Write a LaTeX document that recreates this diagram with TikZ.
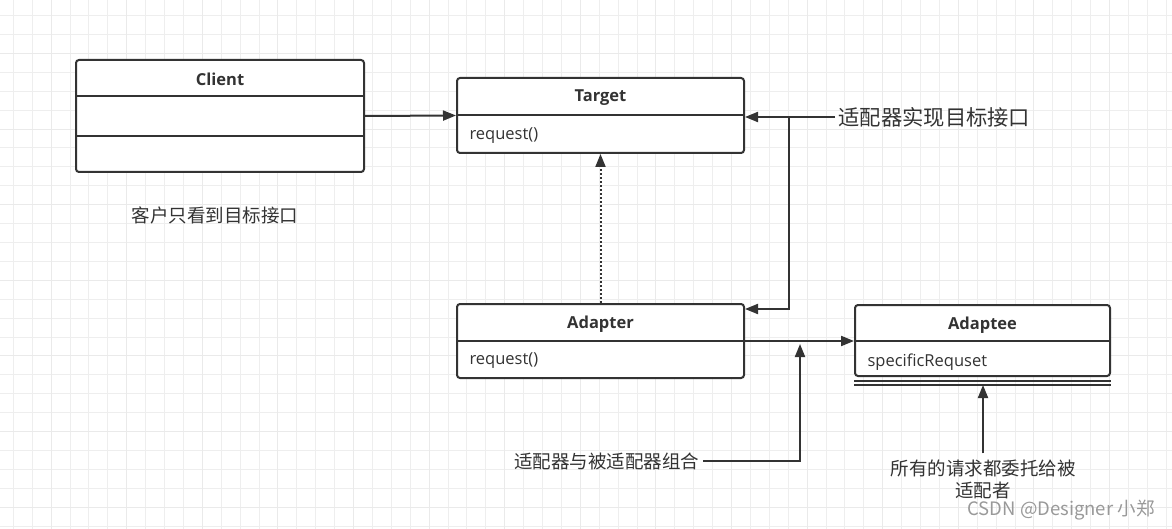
\documentclass[tikz,border=0pt]{standalone}
\usepackage{fontspec}
\setmainfont{Open Sans}
\newfontfamily\cjk{Noto Sans CJK SC}
\usepackage{tikz}
\usetikzlibrary{arrows.meta, positioning, calc}
\definecolor{umlline}{RGB}{51, 51, 51}
\definecolor{gridminor}{RGB}{238, 238, 238}
\definecolor{gridmajor}{RGB}{234, 234, 234}

\begin{document}
\begin{tikzpicture}[x=1pt, y=-1pt,
    classbox/.style={draw=umlline, line width=2pt, rounded corners=3pt,
                     fill=white, inner sep=0pt},
    title/.style={font=\bfseries\fontsize{16.5}{19}\selectfont, text=umlline},
    member/.style={font=\fontsize{16.5}{19}\selectfont, text=umlline, anchor=west},
    note/.style={font=\cjk\fontsize{18.5}{22}\selectfont, text=umlline, align=center},
    sep/.style={line width=2pt, draw=umlline},
    arr/.style={-{Triangle[length=13pt, width=10pt]}, line width=2pt, draw=umlline}
  ]
    % canvas and grid
    \fill[white] (0,0) rectangle (1172,529);
    \useasboundingbox (0,0) rectangle (1172,529);
    \foreach \i in {0,...,61}
      \draw[gridminor, line width=1pt] ({13.3+18.9*\i},0) -- ++(0,529);
    \foreach \i in {0,...,27}
      \draw[gridminor, line width=1pt] (0,{15.7+18.9*\i}) -- ++(1172,0);
    \foreach \i in {0,...,15}
      \draw[gridmajor, line width=1pt] ({51+75.6*\i},0) -- ++(0,529);
    \foreach \i in {0,...,6}
      \draw[gridmajor, line width=1pt] (0,{53.5+75.6*\i}) -- ++(1172,0);

    % classes
    \node[classbox, minimum width=288pt, minimum height=112pt] (client) at (220,116) {};
    \node[title] (clienttitle) at (220,79) {Client};
    \draw[sep] ($(client.north west)+(0,37)$) -- ($(client.north east)+(0,37)$);
    \draw[sep] ($(client.north west)+(0,77)$) -- ($(client.north east)+(0,77)$);

    \node[classbox, minimum width=287pt, minimum height=75pt] (target) at (600.5,115.5) {};
    \node[title] (targettitle) at (600.5,98) {Target};
    \draw[sep] (target.west) -- (target.east);
    \node[member] (targetop) at (466,136) {request()};

    \node[classbox, minimum width=287pt, minimum height=74pt] (adapter) at (600.5,341) {};
    \node[title] (adaptertitle) at (600.5,324) {Adapter};
    \draw[sep] (adapter.west) -- (adapter.east);
    \node[member] (adapterop) at (466,361) {request()};

    \node[classbox, minimum width=255pt, minimum height=71pt] (adaptee) at (982.5,340.5) {};
    \node[title] (adapteetitle) at (982.5,325) {Adaptee};
    \draw[sep] ($(adaptee.north west)+(0,37)$) -- ($(adaptee.north east)+(0,37)$);
    \node[member] (adapteeop) at (864,362) {specificRequset};
    \draw[umlline, line width=1.5pt] ($(adaptee.south west)+(0,4)$) -- ($(adaptee.south east)+(0,4)$);
    \draw[umlline, line width=1.5pt] ($(adaptee.south west)+(0,8)$) -- ($(adaptee.south east)+(0,8)$);

    % notes
    \node[note] (clientnote) at (215,215) {客户只看到目标接口};
    \node[note, font=\cjk\fontsize{21.3}{25}\selectfont, anchor=west] (implnote) at (835,117) {适配器实现目标接口};
    \node[note, anchor=east] (compnote) at (703,461) {适配器与被适配器组合};
    \node[note, inner sep=6pt] (delegnote) at (983,479) {所有的请求都委托给被\\适配者};
    \node[font=\cjk\fontsize{18.5}{21}\selectfont, text=gray!80] (mark) at (1061,510) {CSDN @Designer 小郑};

    % connectors
    \coordinate (split) at (789,117);
    \coordinate (adapterin) at ($(adapter.north east)+(0,6)$);
    \coordinate (compjoin) at (800,344);
    \coordinate (delegin) at (983,385);
    \draw[arr] (client.east) -- (target.west);
    \draw[arr] (implnote.west) -- (target.east |- implnote.west);
    \draw[arr] (split) |- (adapterin);
    \draw[arr, dotted] (adapter.north) -- (target.south);
    \draw[arr] (adapter.east) -- (adaptee.west |- adapter.east);
    \draw[arr] (compnote.east) -| (compjoin);
    \draw[arr] (delegnote.north) -- (delegin);
  \end{tikzpicture}
\end{document}
